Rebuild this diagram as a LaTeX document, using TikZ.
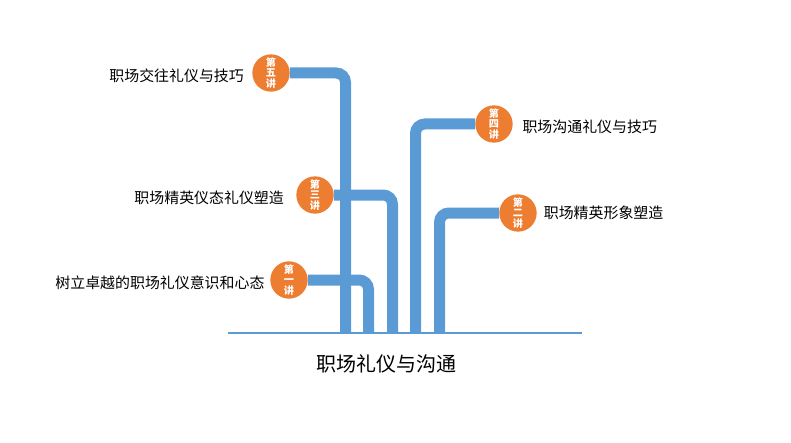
\documentclass[tikz,border=0pt]{standalone}
\usepackage{fontspec}
\setmainfont{Noto Sans CJK SC}
\usetikzlibrary{positioning,backgrounds}
\definecolor{tlBlue}{HTML}{5B9BD5}
\definecolor{tlOrange}{HTML}{ED7D31}

\begin{document}
\begin{tikzpicture}[x=0.75pt,y=-0.75pt,
  lecture/.style={circle, fill=tlOrange, minimum size=28pt, inner sep=0pt,
    text=white, align=center, font=\fontsize{7.6}{8}\selectfont\bfseries},
  topic/.style={font=\fontsize{11.2}{13}\selectfont, inner sep=0pt},
  branch/.style={draw=tlBlue, line width=8.25pt, rounded corners=7pt}]
  \useasboundingbox (0,0) rectangle (791,442);
  \draw[tlBlue, line width=1.5pt] (228,333) -- (582,333);
  \node[font=\fontsize{15}{18}\selectfont, inner sep=0pt] (title) at (386,364) {职场礼仪与沟通};

  \node[lecture] (l5) at (271,73) {第\\五\\讲};
  \node[lecture] (l4) at (494,124) {第\\四\\讲};
  \node[lecture] (l3) at (315,195) {第\\三\\讲};
  \node[lecture] (l2) at (518,213) {第\\二\\讲};
  \node[lecture] (l1) at (289,280) {第\\一\\讲};

  \node[topic, left=6pt of l5, yshift=-2pt] (t5) {职场交往礼仪与技巧};
  \node[topic, right=7pt of l4, yshift=-2pt] (t4) {职场沟通礼仪与技巧};
  \node[topic, left=9pt of l3, yshift=-2pt] (t3) {职场精英仪态礼仪塑造};
  \node[topic, right=5pt of l2] (t2) {职场精英形象塑造};
  \node[topic, left=4pt of l1, yshift=-2pt] (t1) {树立卓越的职场礼仪意识和心态};

  \coordinate (e5) at (345.5,333);
  \coordinate (e1) at (368.5,333);
  \coordinate (e3) at (392.5,333);
  \coordinate (e4) at (415.5,333);
  \coordinate (e2) at (439.5,333);

  \begin{scope}[on background layer]
    \draw[branch] (l5) -| (e5);
    \draw[branch] (l3) -| (e3);
    \draw[branch] (l1) -| (e1);
    \draw[branch] (l4) -| (e4);
    \draw[branch] (l2) -| (e2);
  \end{scope}
\end{tikzpicture}
\end{document}
